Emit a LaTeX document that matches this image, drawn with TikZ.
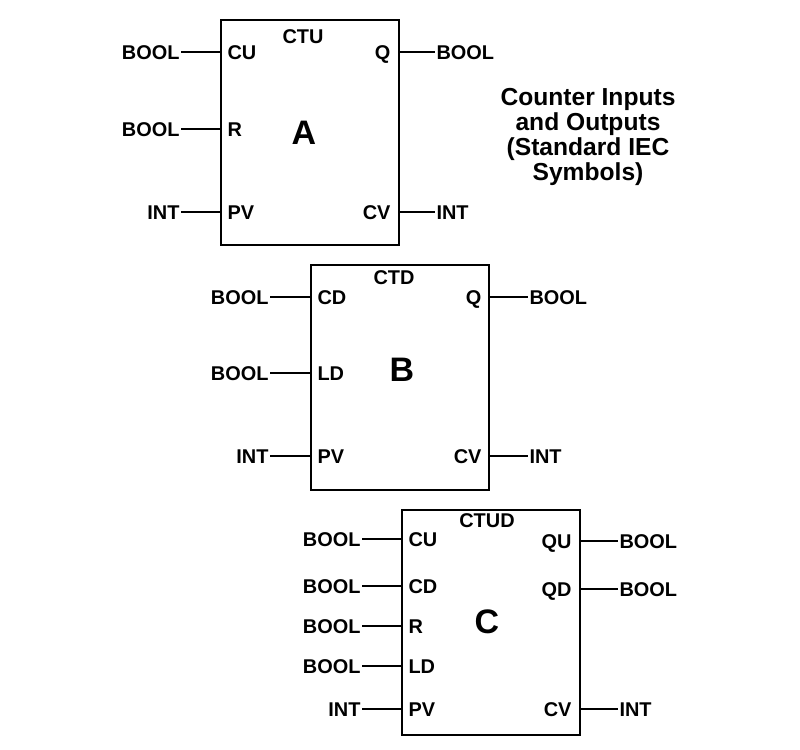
\documentclass[tikz,border=0pt]{standalone}
\usepackage{fontspec}
\setmainfont{Liberation Sans}
\usepackage{tikz}

\tikzset{
  fb/.style={draw,line width=1.4pt,minimum width=5.35cm,minimum height=6.76cm,anchor=north west,inner sep=0pt},
  ty/.style={inner xsep=0.04cm,inner ysep=0pt,text height=12.2pt,text depth=0pt,font=\fontsize{17}{20}\selectfont\bfseries},
  pl/.style={ty,inner xsep=0.22cm,anchor=west},
  pr/.style={pl,anchor=east},
  fname/.style={font=\fontsize{17}{20}\selectfont\bfseries},
  big/.style={font=\fontsize{29}{32}\selectfont\bfseries},
  wire/.style={line width=1.1pt}
}

\begin{document}
\begin{tikzpicture}[x=0.03cm,y=-0.03cm]
\useasboundingbox (0,0) rectangle (800,750);

% counter A (CTU)
\node[fb] (A) at (220,19) {};
\node[fname] (Aname) at (303,37) {CTU};
\node[big] (Aid) at (304,133) {A};
\node[pl] (Acu) at (220,52) {CU};
\node[pl] (Ar) at (220,129) {R};
\node[pl] (Apv) at (220,212) {PV};
\node[pr] (Aq) at (398,52) {Q};
\node[pr] (Acv) at (398,212) {CV};
\node[ty,anchor=east] (Acut) at (181,52) {BOOL};
\node[ty,anchor=east] (Art) at (181,129) {BOOL};
\node[ty,anchor=east] (Apvt) at (181,212) {INT};
\node[ty,anchor=west] (Aqt) at (435,52) {BOOL};
\node[ty,anchor=west] (Acvt) at (435,212) {INT};
\draw[wire] (Acut)--(Acu) (Art)--(Ar) (Apvt)--(Apv) (Aq)--(Aqt) (Acv)--(Acvt);

\node[font=\fontsize{21}{21.5}\selectfont\bfseries,align=center] (title) at (588,137) {Counter Inputs\\and Outputs\\(Standard IEC\\Symbols)};

% counter B (CTD)
\node[fb] (B) at (310,264) {};
\node[fname] (Bname) at (394,278) {CTD};
\node[big] (Bid) at (402,370) {B};
\node[pl] (Bcd) at (310,297) {CD};
\node[pl] (Bld) at (310,373) {LD};
\node[pl] (Bpv) at (310,456) {PV};
\node[pr] (Bq) at (489,297) {Q};
\node[pr] (Bcv) at (489,456) {CV};
\node[ty,anchor=east] (Bcdt) at (270,297) {BOOL};
\node[ty,anchor=east] (Bldt) at (270,373) {BOOL};
\node[ty,anchor=east] (Bpvt) at (270,456) {INT};
\node[ty,anchor=west] (Bqt) at (528,297) {BOOL};
\node[ty,anchor=west] (Bcvt) at (528,456) {INT};
\draw[wire] (Bcdt)--(Bcd) (Bldt)--(Bld) (Bpvt)--(Bpv) (Bq)--(Bqt) (Bcv)--(Bcvt);

% counter C (CTUD)
\node[fb] (C) at (401,509) {};
\node[fname] (Cname) at (487,521) {CTUD};
\node[big] (Cid) at (487,622) {C};
\node[pl] (Ccu) at (401,539) {CU};
\node[pl] (Ccd) at (401,586) {CD};
\node[pl] (Cr) at (401,626) {R};
\node[pl] (Cld) at (401,666) {LD};
\node[pl] (Cpv) at (401,709) {PV};
\node[pr] (Cqu) at (579,541) {QU};
\node[pr] (Cqd) at (579,589) {QD};
\node[pr] (Ccv) at (579,709) {CV};
\node[ty,anchor=east] (Ccut) at (362,539) {BOOL};
\node[ty,anchor=east] (Ccdt) at (362,586) {BOOL};
\node[ty,anchor=east] (Crt) at (362,626) {BOOL};
\node[ty,anchor=east] (Cldt) at (362,666) {BOOL};
\node[ty,anchor=east] (Cpvt) at (362,709) {INT};
\node[ty,anchor=west] (Cqut) at (618,541) {BOOL};
\node[ty,anchor=west] (Cqdt) at (618,589) {BOOL};
\node[ty,anchor=west] (Ccvt) at (618,709) {INT};
\draw[wire] (Ccut)--(Ccu) (Ccdt)--(Ccd) (Crt)--(Cr) (Cldt)--(Cld) (Cpvt)--(Cpv)
  (Cqu)--(Cqut) (Cqd)--(Cqdt) (Ccv)--(Ccvt);
\end{tikzpicture}
\end{document}
